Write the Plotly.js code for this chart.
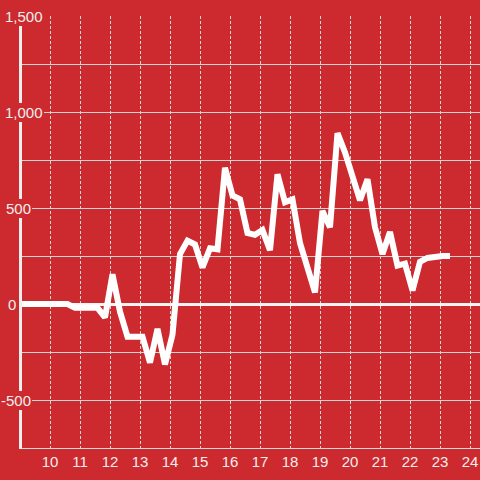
<!DOCTYPE html>
<html>
<head>
<meta charset="utf-8">
<script src="https://cdn.plot.ly/plotly-3.0.1.min.js"></script>
<style>
  html, body { margin: 0; padding: 0; background: #cc2a2e; }
  #chart { width: 480px; height: 480px; }
</style>
</head>
<body>
<div id="chart"></div>
<script>
// ---- data ----
const hours = [
  8.833, 9.083, 9.333, 9.583, 9.833, 10.083, 10.333, 10.583, 10.833, 11.083,
  11.333, 11.583, 11.833, 12.083, 12.333, 12.583, 12.833, 13.083, 13.333, 13.583,
  13.833, 14.083, 14.333, 14.583, 14.833, 15.083, 15.333, 15.583, 15.833, 16.083,
  16.333, 16.583, 16.833, 17.083, 17.333, 17.583, 17.833, 18.083, 18.333, 18.583,
  18.833, 19.083, 19.333, 19.583, 19.833, 20.083, 20.333, 20.583, 20.833, 21.083,
  21.333, 21.583, 21.833, 22.083, 22.333, 22.583, 22.833, 23.083, 23.333
];
const values = [
  0, 0, 0, 0, 0, 0, 0, 0, -20, -20,
  -20, -20, -70, 155, -40, -170, -170, -170, -305, -130,
  -315, -160, 260, 330, 310, 190, 290, 285, 710, 565,
  545, 370, 360, 385, 280, 675, 530, 545, 318, 195,
  60, 485, 400, 890, 790, 665, 540, 650, 400, 260,
  375, 200, 210, 70, 220, 240, 248, 250, 250
];
const xTickValues = [10, 11, 12, 13, 14, 15, 16, 17, 18, 19, 20, 21, 22, 23, 24];
const xTickLabels = ["10", "11", "12", "13", "14", "15", "16", "17", "18", "19", "20", "21", "22", "23", "24"];
const yGridValues = [-500, -250, 0, 250, 500, 750, 1000, 1250, 1500];
const yLabelValues = [1500, 1000, 500, 0, -500];
const yLabelTexts = ["1,500", "1,000", "500", "0", "-500"];

// ---- style ----
const BG = '#cc2a2e';
const TXT = '#f2eeee';
const FONT = 'Liberation Sans, Arial, sans-serif';
const W = 480, H = 480, ML = 20, MR = 0, MT = 16, MB = 32;
const PW = W - ML - MR, PH = H - MT - MB;
// right edge (px) of each y label box
const yLabelRightPx = [44, 44, 32, 17, 32];

const annotations = yLabelValues.map((v, i) => ({
  x: (yLabelRightPx[i] - ML) / PW,
  xref: 'paper',
  y: v,
  yref: 'y',
  text: yLabelTexts[i],
  showarrow: false,
  xanchor: 'right',
  yanchor: 'middle',
  bgcolor: BG,
  borderpad: 1,
  borderwidth: 0,
  font: { family: FONT, size: 15, color: TXT }
}));

const trace = {
  x: hours,
  y: values,
  type: 'scatter',
  mode: 'lines',
  line: { color: '#ffffff', width: 6 },
  hoverinfo: 'skip'
};

const layout = {
  width: W,
  height: H,
  margin: { l: ML, r: MR, t: MT, b: MB, pad: 0 },
  paper_bgcolor: BG,
  plot_bgcolor: BG,
  showlegend: false,
  font: { family: FONT, size: 15, color: TXT },
  xaxis: {
    range: [9, 24.3333],
    tickmode: 'array',
    tickvals: xTickValues,
    ticktext: xTickLabels,
    showgrid: true,
    gridcolor: '#d9d9d9',
    gridwidth: 1,
    griddash: '3px,2px',
    showline: true,
    linecolor: '#d9d9d9',
    linewidth: 1,
    zeroline: false,
    ticks: '',
    tickfont: { family: FONT, size: 15, color: TXT },
    fixedrange: true
  },
  yaxis: {
    range: [-750, 1500],
    tickmode: 'array',
    tickvals: yGridValues,
    showticklabels: false,
    showgrid: true,
    gridcolor: '#d4d4d4',
    gridwidth: 1,
    zeroline: true,
    zerolinecolor: '#f4f4f4',
    zerolinewidth: 3,
    showline: false,
    ticks: '',
    fixedrange: true
  },
  shapes: [{
    type: 'line',
    xref: 'paper', yref: 'paper',
    x0: 0.5 / PW, x1: 0.5 / PW,
    y0: -1 / PH, y1: 1,
    line: { color: '#eeeeee', width: 3 },
    layer: 'above'
  }],
  annotations: annotations
};

Plotly.newPlot('chart', [trace], layout, { displayModeBar: false, staticPlot: true });
</script>
</body>
</html>
